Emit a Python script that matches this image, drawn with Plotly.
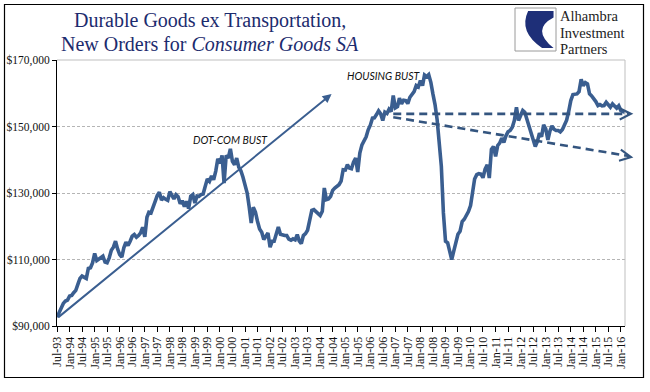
import pandas as pd
import plotly.graph_objects as go

# ---- data (thousands of $), monthly from Jul-1993 ----
start_month = "1993-07-01"
vals_1993_1995 = [92.6, 94.0, 95.3, 96.8, 97.5, 97.8, 99.0, 99.2, 100.0, 100.7, 102.5, 104.3,
                  105.0, 104.6, 104.3, 107.3, 107.5, 109.0, 111.8, 109.7, 110.2, 110.8, 111.0, 109.2,
                  109.0, 110.5, 112.8, 113.7, 115.5, 113.2, 111.5, 110.7, 113.5, 115.2, 114.2, 115.5]
vals_1996_1998 = [117.0, 117.5, 116.7, 117.2, 118.0, 119.7, 116.8, 122.7, 124.2, 124.0, 126.2, 127.5,
                  129.2, 130.2, 127.9, 128.6, 128.1, 127.8, 130.4, 129.2, 128.2, 129.5, 128.9, 126.8,
                  127.7, 125.9, 127.5, 125.3, 129.0, 129.5, 127.0, 129.1, 129.0, 129.5, 129.7, 132.0]
vals_1999_2001 = [134.2, 133.5, 135.1, 134.0, 136.6, 140.3, 138.9, 141.3, 133.0, 141.3, 140.5, 143.3,
                  139.5, 138.5, 140.5, 137.8, 136.7, 134.8, 132.0, 130.0, 126.0, 121.0, 125.7, 124.3,
                  121.5, 119.2, 118.2, 116.0, 117.0, 118.0, 113.7, 115.5, 115.5, 117.3, 119.8, 117.6]
vals_2002_2004 = [117.3, 117.2, 117.2, 116.1, 115.8, 116.2, 115.9, 117.5, 115.6, 114.8, 117.2, 117.8,
                  118.8, 121.3, 124.8, 125.0, 124.4, 123.8, 123.2, 124.5, 131.5, 128.0, 128.2, 129.0,
                  130.8, 131.5, 132.2, 132.5, 133.6, 137.0, 136.9, 138.5, 137.5, 137.3, 139.3, 140.5]
vals_2005_2007 = [136.3, 142.0, 144.5, 145.6, 146.9, 149.0, 150.4, 152.5, 152.6, 153.6, 154.7, 153.8,
                  151.8, 154.3, 153.9, 155.2, 154.5, 159.3, 155.6, 156.0, 158.5, 156.8, 157.9, 157.8,
                  156.9, 158.8, 159.9, 160.5, 162.3, 161.9, 163.8, 162.3, 165.5, 165.0, 165.6, 163.3]
vals_2008_2010 = [159.8, 156.6, 152.0, 144.0, 138.0, 124.0, 115.5, 115.0, 112.5, 110.0, 112.5, 115.0,
                  117.6, 118.5, 121.4, 122.1, 123.3, 124.4, 126.2, 131.0, 134.2, 135.5, 135.8, 135.7,
                  134.6, 137.2, 138.5, 134.5, 143.1, 144.0, 141.0, 144.3, 145.0, 146.5, 145.2, 147.2]
vals_2011_2013 = [148.4, 148.8, 149.8, 151.8, 155.8, 151.8, 153.3, 154.8, 154.3, 152.2, 150.0, 148.0,
                  146.0, 144.0, 145.5, 148.0, 146.9, 150.5, 149.3, 146.0, 148.5, 150.2, 149.2, 148.8,
                  148.8, 148.4, 149.1, 150.3, 151.9, 154.5, 157.8, 159.6, 159.8, 159.8, 160.5, 164.2]
vals_2014_2016 = [162.3, 163.2, 162.8, 159.8, 159.2, 158.5, 157.5, 156.3, 156.6, 156.2, 156.3, 157.3,
                  156.6, 155.8, 156.8, 156.0, 155.5, 156.2, 154.8, 154.5, 154.3]

values_k = (vals_1993_1995 + vals_1996_1998 + vals_1999_2001 + vals_2002_2004 +
            vals_2005_2007 + vals_2008_2010 + vals_2011_2013 + vals_2014_2016)
values = [v * 1000 for v in values_k]
dates = pd.date_range(start_month, periods=len(values), freq="MS")

y_ticks = [90000, 110000, 130000, 150000, 170000]
y_tick_labels = [f"${v:,}" for v in y_ticks]

# annotation anchors (date, value)
trend_start = ("1993-07-01", 92300)
trend_end = ("2004-06-15", 159800)
flat_start = ("2006-12-01", 153800)
flat_end = ("2016-07-01", 153800)
down_start = ("2006-12-01", 152800)
down_end = ("2016-07-01", 140700)

BLUE = "#3a5e90"
DASH_BLUE = "#34557f"

# ---- geometry ----
W, H = 650, 392
ML, MR, MT, MB = 57, 25, 60, 66
PW, PH = W - ML - MR, H - MT - MB

x0 = pd.Timestamp(dates[0])
x1 = pd.Timestamp(dates[-1])
y0, y1 = 90000, 170000


def xp(d):
    return (pd.Timestamp(d) - x0) / (x1 - x0)


def yp(v):
    return (v - y0) / (y1 - y0)


def px_x(px):
    return (px - ML) / PW


def px_y(py):
    return (H - MB - py) / PH


fig = go.Figure()
fig.add_trace(go.Scatter(x=dates, y=values, mode="lines",
                         line=dict(color=BLUE, width=3.6), hoverinfo="skip",
                         showlegend=False))

shapes = []
# plot-area border top/right (grey)
shapes.append(dict(type="line", xref="paper", yref="paper", x0=0, x1=1, y0=1, y1=1,
                   line=dict(color="#bfbfbf", width=1)))
shapes.append(dict(type="line", xref="paper", yref="paper", x0=1, x1=1, y0=0, y1=1,
                   line=dict(color="#bfbfbf", width=1)))
# outer frame
shapes.append(dict(type="rect", xref="paper", yref="paper",
                   x0=px_x(4.5), x1=px_x(643.5), y0=px_y(377.5), y1=px_y(4.5),
                   line=dict(color="black", width=1.2)))
# dashed trend lines
shapes.append(dict(type="line", xref="paper", yref="paper",
                   x0=xp(flat_start[0]), y0=yp(flat_start[1]),
                   x1=xp(flat_end[0]) - 0.01, y1=yp(flat_end[1]),
                   line=dict(color=DASH_BLUE, width=2.6, dash="8px,5px")))
shapes.append(dict(type="line", xref="paper", yref="paper",
                   x0=xp(down_start[0]), y0=yp(down_start[1]),
                   x1=xp(down_end[0]) - 0.01, y1=yp(down_end[1]) + 0.006,
                   line=dict(color=DASH_BLUE, width=2.6, dash="8px,5px")))
# logo box + swoosh
lx0, lx1, ly0, ly1 = px_x(515), px_x(556), px_y(51), px_y(8)
shapes.append(dict(type="rect", xref="paper", yref="paper", x0=lx0, x1=lx1, y0=ly0, y1=ly1,
                   line=dict(color="#9a9a9a", width=1), fillcolor="white"))


def lp(u, v):
    return f"{lx0 + (lx1 - lx0) * u:.5f},{ly1 - (ly1 - ly0) * v:.5f}"


swoosh = (f"M {lp(0.32, 0.07)} L {lp(0.94, 0.07)} L {lp(0.94, 0.22)} "
          f"Q {lp(0.38, 0.50)} {lp(0.94, 0.93)} L {lp(0.66, 0.93)} "
          f"Q {lp(0.08, 0.55)} {lp(0.32, 0.07)} Z")
shapes.append(dict(type="path", xref="paper", yref="paper", path=swoosh,
                   fillcolor="#1e2f78", line=dict(width=0)))

annotations = []
# solid trend arrow
annotations.append(dict(x=trend_end[0], y=trend_end[1], ax=trend_start[0], ay=trend_start[1],
                        xref="x", yref="y", axref="x", ayref="y", text="", showarrow=True,
                        arrowhead=2, arrowsize=0.9, arrowwidth=2, arrowcolor=BLUE))
# dashed arrow heads
dx = (xp(down_end[0]) - xp(down_start[0])) * PW
dy = (yp(down_end[1]) - yp(down_start[1])) * PH
n = (dx * dx + dy * dy) ** 0.5
annotations.append(dict(x=xp(flat_end[0]), y=yp(flat_end[1]), xref="paper", yref="paper",
                        ax=-8, ay=0, text="", showarrow=True, arrowhead=5, arrowsize=1.1,
                        arrowwidth=2, arrowcolor=DASH_BLUE))
annotations.append(dict(x=xp(down_end[0]), y=yp(down_end[1]), xref="paper", yref="paper",
                        ax=-8 * dx / n, ay=8 * dy / n, text="", showarrow=True, arrowhead=5,
                        arrowsize=1.1, arrowwidth=2, arrowcolor=DASH_BLUE))
# labels
annotations.append(dict(x="2000-06-01", y=145800, xref="x", yref="y", text="<i>DOT-COM BUST</i>",
                        showarrow=False, xanchor="center", yanchor="middle",
                        font=dict(family="Lato", size=10.5, color="#111")))
annotations.append(dict(x="2006-07-15", y=165300, xref="x", yref="y", text="<i>HOUSING BUST</i>",
                        showarrow=False, xanchor="center", yanchor="middle",
                        font=dict(family="Lato", size=10.5, color="#111")))
# title
TITLE = "#1c2b6e"
annotations.append(dict(x=px_x(210), y=px_y(21), xref="paper", yref="paper",
                        text="Durable Goods ex Transportation,", showarrow=False,
                        xanchor="center", yanchor="middle",
                        font=dict(family="Liberation Serif", size=20, color=TITLE)))
annotations.append(dict(x=px_x(210), y=px_y(44), xref="paper", yref="paper",
                        text="New Orders for <i>Consumer Goods SA</i>", showarrow=False,
                        xanchor="center", yanchor="middle",
                        font=dict(family="Liberation Serif", size=20, color=TITLE)))
# logo text
for txt, yy in [("Alhambra", 16), ("Investment", 32.5), ("Partners", 49)]:
    annotations.append(dict(x=px_x(559), y=px_y(yy), xref="paper", yref="paper", text=txt,
                            xanchor="left", yanchor="middle", showarrow=False, borderpad=0,
                            font=dict(family="Liberation Serif", size=14.5, color="#222")))

fig.update_layout(
    width=W, height=H,
    margin=dict(l=ML, r=MR, t=MT, b=MB, autoexpand=False),
    paper_bgcolor="white", plot_bgcolor="white",
    shapes=shapes, annotations=annotations,
    showlegend=False,
    xaxis=dict(type="date", range=[x0, x1], tick0=start_month, dtick="M6",
               tickformat="%b-%y", tickangle=-90, ticks="outside", ticklen=5,
               tickcolor="black", showline=True, linecolor="black", linewidth=1,
               showgrid=False, zeroline=False, automargin=False,
               tickfont=dict(family="Liberation Serif", size=12, color="#111")),
    yaxis=dict(range=[y0, y1], tickvals=y_ticks, ticktext=y_tick_labels,
               ticks="outside", ticklen=4, tickcolor="black", showline=True,
               linecolor="black", linewidth=1, showgrid=True, gridcolor="#b5b5b5",
               griddash="3px,2px", gridwidth=1, zeroline=False, automargin=False,
               tickfont=dict(family="Liberation Serif", size=11.5, color="#111")),
)

fig.write_html("out.html", config={"displayModeBar": False},
               post_script="document.body.style.margin='0';")
